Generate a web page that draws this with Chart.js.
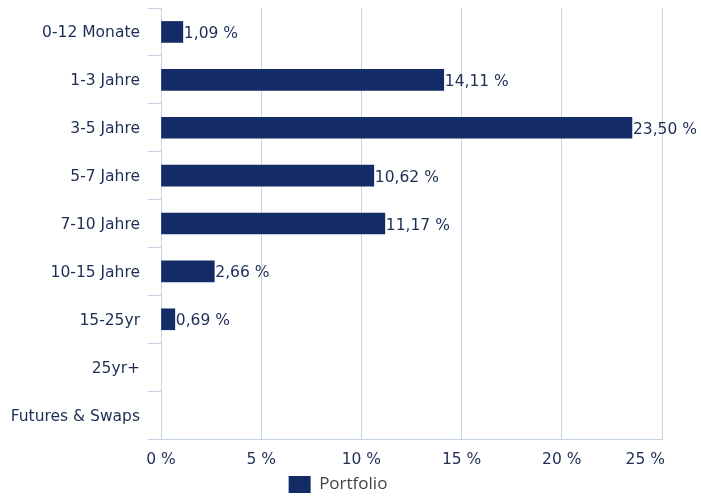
<!DOCTYPE html>
<html>
<head>
<meta charset="utf-8">
<script src="https://cdn.jsdelivr.net/npm/chart.js@4/dist/chart.umd.min.js"></script>
<style>
html,body{margin:0;padding:0;background:#fff;}
#wrap{width:701px;height:497px;position:relative;}
</style>
</head>
<body>
<div id="wrap"><canvas id="c" width="701" height="497"></canvas></div>
<script>
const categories = ["0-12 Monate","1-3 Jahre","3-5 Jahre","5-7 Jahre","7-10 Jahre","10-15 Jahre","15-25yr","25yr+","Futures & Swaps"];
const portfolio = [1.09, 14.11, 23.50, 10.62, 11.17, 2.66, 0.69, null, null];
const xTicks = [0, 5, 10, 15, 20, 25];
const seriesName = "Portfolio";

const NAVY = "#132b66";
const TEXT = "#1e2d55";
const GRID = "#c6d3e4";
const FONT = "'DejaVu Sans', Verdana, sans-serif";
const FS = 15.5;

function fmt(v){ return v.toFixed(2).replace('.', ',') + ' %'; }

const labelPlugin = {
  id: 'barLabels',
  afterLayout(chart){
    if (chart.legend) { chart.legend.right += 14; chart.legend.width += 14; }
  },
  afterDatasetsDraw(chart){
    const ctx = chart.ctx;
    const meta = chart.getDatasetMeta(0);
    ctx.save();
    ctx.font = FS + "px " + FONT;
    ctx.fillStyle = TEXT;
    ctx.textAlign = 'left';
    ctx.textBaseline = 'middle';
    meta.data.forEach((bar, i) => {
      const v = portfolio[i];
      if (v === null) return;
      ctx.fillText(fmt(v), bar.x + 1, bar.y + 2);
    });
    ctx.restore();
  },
  afterDraw(chart){
    const ctx = chart.ctx;
    const xs = chart.scales.x;
    ctx.save();
    ctx.font = FS + "px " + FONT;
    ctx.fillStyle = TEXT;
    ctx.textBaseline = 'middle';
    ctx.textAlign = 'center';
    const y = chart.chartArea.bottom + 21;
    xTicks.forEach(t => {
      let px = xs.getPixelForValue(t);
      const label = t + ' %';
      const w = ctx.measureText(label).width;
      if (px + w/2 > chart.chartArea.right + 3) px = chart.chartArea.right + 3 - w/2;
      ctx.fillText(label, px, y);
    });
    ctx.restore();
  }
};

new Chart(document.getElementById('c'), {
  type: 'bar',
  data: {
    labels: categories,
    datasets: [{
      label: seriesName,
      data: portfolio,
      backgroundColor: NAVY,
      borderWidth: 0,
      barThickness: 21,
      categoryPercentage: 1,
      barPercentage: 1
    }]
  },
  options: {
    indexAxis: 'y',
    responsive: false,
    animation: false,
    devicePixelRatio: 1,
    layout: { padding: { left: 0, right: 39, top: 8, bottom: 0 } },
    scales: {
      x: {
        min: 0, max: 25,
        afterBuildTicks(scale){ scale.ticks = xTicks.map(v => ({value: v})); },
        grid: { color: GRID, lineWidth: 1, drawTicks: false },
        border: { display: true, color: GRID, width: 1 },
        ticks: { display: false },
        afterFit(scale){ scale.height = 33; scale.paddingLeft = 0; scale.paddingRight = 0; }
      },
      y: {
        grid: { offset: true, drawOnChartArea: false, color: GRID, tickLength: 13, lineWidth: 1 },
        border: { display: true, color: GRID, width: 1 },
        ticks: { color: TEXT, font: { family: FONT, size: FS }, padding: 8, labelOffset: 1.5 },
        afterFit(scale){ scale.width = 161; scale.paddingTop = 0; scale.paddingBottom = 0; }
      }
    },
    plugins: {
      legend: {
        position: 'bottom',
        maxHeight: 25,
        labels: {
          boxWidth: 22, boxHeight: 17,
          color: '#444444',
          font: { family: "'Open Sans', sans-serif", size: 17 },
          padding: 4
        }
      },
      tooltip: { enabled: false }
    }
  },
  plugins: [labelPlugin]
});
</script>
</body>
</html>
